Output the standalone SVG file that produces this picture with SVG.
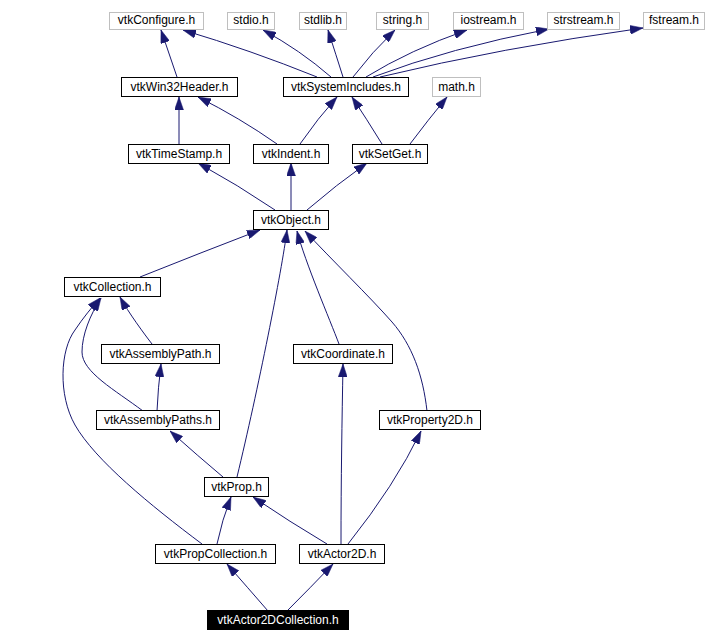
<svg xmlns="http://www.w3.org/2000/svg" width="706" height="642" viewBox="0 0 706 642">
<style>
  .n rect { fill: #ffffff; stroke: #000000; stroke-width: 1; }
  .g rect { fill: #ffffff; stroke: #bfbfbf; stroke-width: 1; }
  .n text, .g text { font-family: "Liberation Sans", Arial, sans-serif; font-size: 12px; fill: #000000; text-anchor: middle; }
  .h rect { fill: #000000; stroke: #000000; stroke-width: 1; }
  .h text { font-family: "Liberation Sans", Arial, sans-serif; font-size: 12px; fill: #ffffff; text-anchor: middle; }
  #edges path { fill: none; stroke: #191970; stroke-width: 1; marker-end: url(#arr); }
</style>
<defs>
  <marker id="arr" viewBox="0 0 13 9" markerWidth="13" markerHeight="9" refX="13" refY="4.5" orient="auto" markerUnits="userSpaceOnUse">
    <path d="M0,0 L13,4.5 L0,9 z" fill="#191970" stroke="#191970" stroke-width="0.5"/>
  </marker>
</defs>
<rect width="706" height="642" fill="#ffffff"/>

<g id="edges">
  <!-- row 2 to row 1 -->
  <path d="M177,77 L161,30"/>
  <path d="M317,77 Q250,50 183,30"/>
  <path d="M331,77 Q300,50 263,30"/>
  <path d="M343,77 Q336,55 328,30"/>
  <path d="M353,77 Q372,52 395,30"/>
  <path d="M366,77 Q410,50 467,30"/>
  <path d="M373,77 Q450,48 549,29"/>
  <path d="M380,77 Q500,48 643,28"/>
  <!-- row 3 to row 2 -->
  <path d="M179,144 L179,97"/>
  <path d="M277,144 Q240,118 198,97"/>
  <path d="M300,144 Q318,118 337,97"/>
  <path d="M382,144 Q366,118 352,97"/>
  <path d="M410,144 Q428,120 447,97"/>
  <!-- row 4 to row 3 -->
  <path d="M275,210 Q238,185 198,163"/>
  <path d="M291,210 L291,163"/>
  <path d="M307,210 Q336,185 367,163"/>
  <!-- to vtkObject -->
  <path d="M140,277 Q200,253 260,230"/>
  <path d="M237,477 C258,390 282,270 287,230"/>
  <path d="M339,344 C330,320 305,262 297,231"/>
  <path d="M427,411 C423,375 412,345 392,322 C370,297 330,258 305,231"/>
  <!-- to vtkCollection -->
  <path d="M152,344 C145,335 128,312 120,297"/>
  <path d="M143,411 C115,390 82,372 82,352 C82,335 90,315 101,298"/>
  <path d="M202,544 C150,505 95,460 75,425 C58,395 60,350 75,330 C83,318 92,307 100,298"/>
  <!-- others -->
  <path d="M157,411 Q158,388 161,364"/>
  <path d="M223,477 Q198,456 170,431"/>
  <path d="M217,544 Q222,520 231,497"/>
  <path d="M327,544 Q290,522 253,497"/>
  <path d="M341,544 C341,480 342,420 343,364"/>
  <path d="M348,544 Q395,485 421,431"/>
  <path d="M268,611 Q248,588 227,564"/>
  <path d="M287,611 Q310,588 333,564"/>
</g>

<g id="n_vtkConfigure" class="g"><rect x="109.5" y="12.5" width="94" height="17"/><text x="156.5" y="24">vtkConfigure.h</text></g>
<g id="n_stdio" class="g"><rect x="227.5" y="12.5" width="47" height="17"/><text x="251" y="24">stdio.h</text></g>
<g id="n_stdlib" class="g"><rect x="299.5" y="12.5" width="47" height="17"/><text x="323" y="24">stdlib.h</text></g>
<g id="n_string" class="g"><rect x="376.5" y="12.5" width="52" height="17"/><text x="402.5" y="24">string.h</text></g>
<g id="n_iostream" class="g"><rect x="453.5" y="12.5" width="70" height="17"/><text x="488.5" y="24">iostream.h</text></g>
<g id="n_strstream" class="g"><rect x="547.5" y="12.5" width="72" height="17"/><text x="583.5" y="24">strstream.h</text></g>
<g id="n_fstream" class="g"><rect x="643.5" y="12.5" width="61" height="17"/><text x="674" y="24">fstream.h</text></g>

<g id="n_vtkWin32Header" class="n"><rect x="121.5" y="77.5" width="116" height="19"/><text x="179.5" y="91">vtkWin32Header.h</text></g>
<g id="n_vtkSystemIncludes" class="n"><rect x="283.5" y="77.5" width="125" height="19"/><text x="346" y="91">vtkSystemIncludes.h</text></g>
<g id="n_math" class="g"><rect x="432.5" y="77.5" width="48" height="19"/><text x="456.5" y="91">math.h</text></g>

<g id="n_vtkTimeStamp" class="n"><rect x="128.5" y="144.5" width="101" height="19"/><text x="179" y="158">vtkTimeStamp.h</text></g>
<g id="n_vtkIndent" class="n"><rect x="253.5" y="144.5" width="75" height="19"/><text x="291" y="158">vtkIndent.h</text></g>
<g id="n_vtkSetGet" class="n"><rect x="352.5" y="144.5" width="75" height="19"/><text x="390" y="158">vtkSetGet.h</text></g>

<g id="n_vtkObject" class="n"><rect x="253.5" y="210.5" width="75" height="19"/><text x="291" y="224">vtkObject.h</text></g>

<g id="n_vtkCollection" class="n"><rect x="64.5" y="277.5" width="96" height="19"/><text x="112.5" y="291">vtkCollection.h</text></g>

<g id="n_vtkAssemblyPath" class="n"><rect x="101.5" y="344.5" width="118" height="19"/><text x="160.5" y="358">vtkAssemblyPath.h</text></g>
<g id="n_vtkCoordinate" class="n"><rect x="293.5" y="344.5" width="99" height="19"/><text x="343" y="358">vtkCoordinate.h</text></g>

<g id="n_vtkAssemblyPaths" class="n"><rect x="96.5" y="410.5" width="123" height="19"/><text x="158" y="424">vtkAssemblyPaths.h</text></g>
<g id="n_vtkProperty2D" class="n"><rect x="379.5" y="410.5" width="101" height="19"/><text x="430" y="424">vtkProperty2D.h</text></g>

<g id="n_vtkProp" class="n"><rect x="204.5" y="477.5" width="64" height="19"/><text x="236.5" y="491">vtkProp.h</text></g>

<g id="n_vtkPropCollection" class="n"><rect x="155.5" y="544.5" width="120" height="19"/><text x="215.5" y="558">vtkPropCollection.h</text></g>
<g id="n_vtkActor2D" class="n"><rect x="299.5" y="544.5" width="85" height="19"/><text x="342" y="558">vtkActor2D.h</text></g>

<g id="n_vtkActor2DCollection" class="h"><rect x="207.5" y="610.5" width="141" height="19"/><text x="278" y="624">vtkActor2DCollection.h</text></g>
</svg>
